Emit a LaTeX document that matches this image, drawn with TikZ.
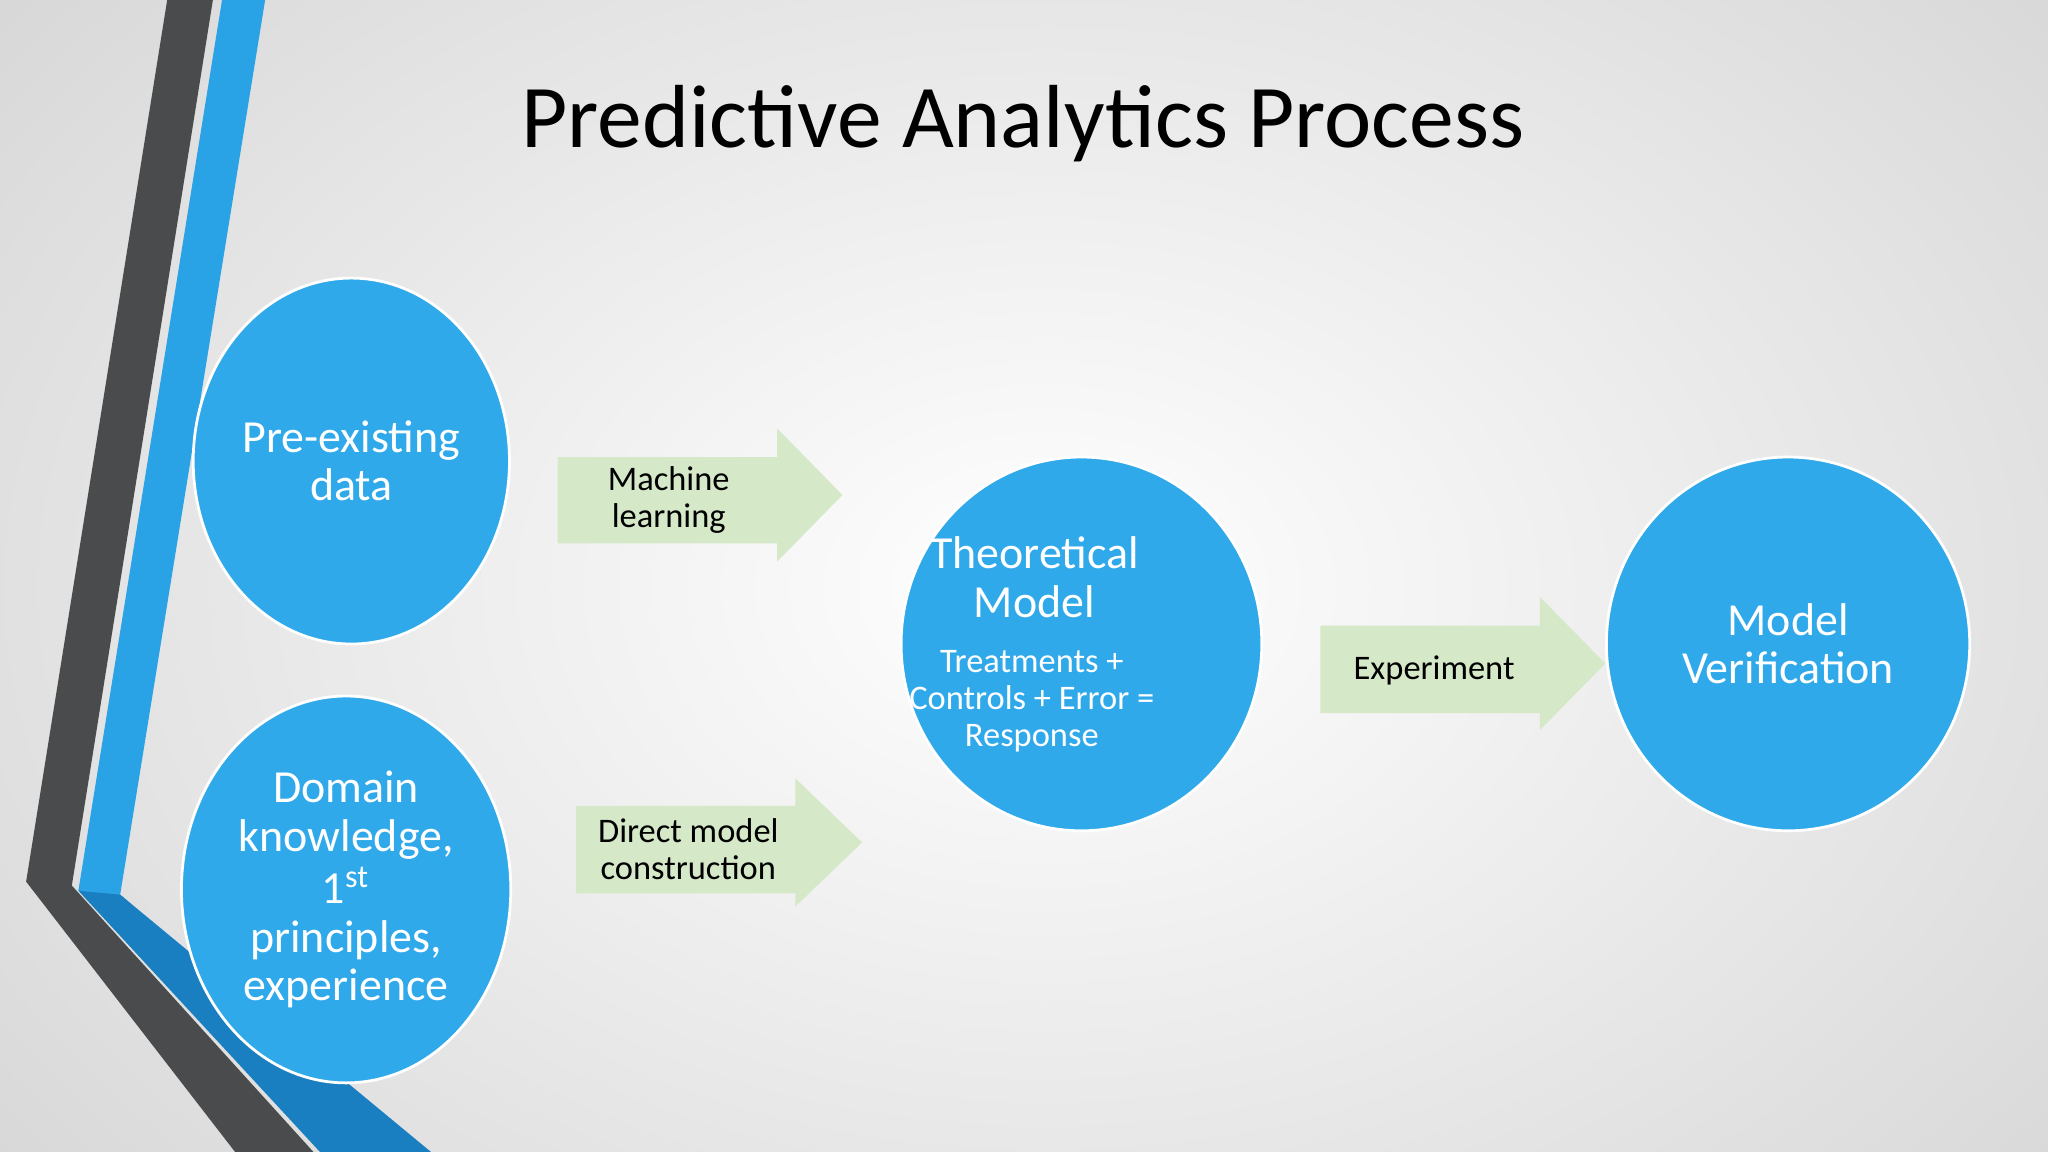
\documentclass[tikz,border=0pt]{standalone}
\usepackage{fontspec}
\setmainfont{Carlito}
\usetikzlibrary{shapes.geometric,shapes.arrows}
\definecolor{bub}{HTML}{30A9EA}
\definecolor{grn}{HTML}{D5E8C8}
\definecolor{dgr}{HTML}{4A4B4D}
\definecolor{blu}{HTML}{29A3E6}
\definecolor{dblu}{HTML}{1A7FC0}
\tikzset{
 bubble/.style={ellipse,fill=bub,draw=white,line width=0.6pt,text=white,align=center,inner sep=0pt,font=\fontsize{10}{10.5}\selectfont},
 arr/.style={fill=grn,draw=none},
 lbl/.style={align=center,font=\fontsize{7.5}{8}\selectfont,text=black}
}
\begin{document}
\begin{tikzpicture}[x=0.01cm,y=-0.01cm]
\useasboundingbox (0,0) rectangle (1568,882);
\shade[inner color=white,outer color=gray!45] (-700,-600) rectangle (2300,1500);
\clip (0,0) rectangle (1568,882);
% left decoration
\fill[dgr] (128,0)--(163,0)--(55,678)--(240,882)--(180,882)--(20,675)--cycle;
\fill[blu] (170,0)--(203,0)--(92,685)--(98,690)--(60,682)--cycle;
\fill[dblu] (60,682)--(92,685)--(330,882)--(245,882)--cycle;
% title
\node[font=\fontsize{19.5}{22}\selectfont] (title) at (783,95) {Predictive Analytics Process};
% bubbles
\node[bubble,minimum width=2.42cm,minimum height=2.8cm] (pre) at (269,353) {Pre-existing\\data};
\node[bubble,minimum width=2.52cm,minimum height=2.96cm] (dom) at (265,681) {Domain\\knowledge,\\[1pt]1\textsuperscript{st}\\principles,\\experience};
\node[bubble,minimum width=2.76cm,minimum height=2.86cm] (theo) at (828,493) {};
\node[text=white,align=center,font=\fontsize{10}{10.5}\selectfont] (theot) at (792,442) {Theoretical\\Model};
\node[text=white,align=center,font=\fontsize{7.5}{8}\selectfont] (theos) at (790,537) {Treatments +\\Controls + Error =\\Response};
\node[bubble,minimum width=2.78cm,minimum height=2.86cm] (ver) at (1369,493) {Model\\Verification};
% arrows
\fill[arr] (427,350)--(595,350)--(595,328)--(645,379)--(595,430)--(595,416)--(427,416)--cycle;
\node[lbl] (ml) at (512,383) {Machine\\learning};
\fill[arr] (441,617)--(609,617)--(609,596)--(660,645)--(609,694)--(609,684)--(441,684)--cycle;
\node[lbl] (dm) at (527,650) {Direct model\\construction};
\fill[arr] (1011,479)--(1179,479)--(1179,457)--(1229,508)--(1179,559)--(1179,546)--(1011,546)--cycle;
\node[lbl] (ex) at (1098,513) {Experiment};
\end{tikzpicture}
\end{document}
